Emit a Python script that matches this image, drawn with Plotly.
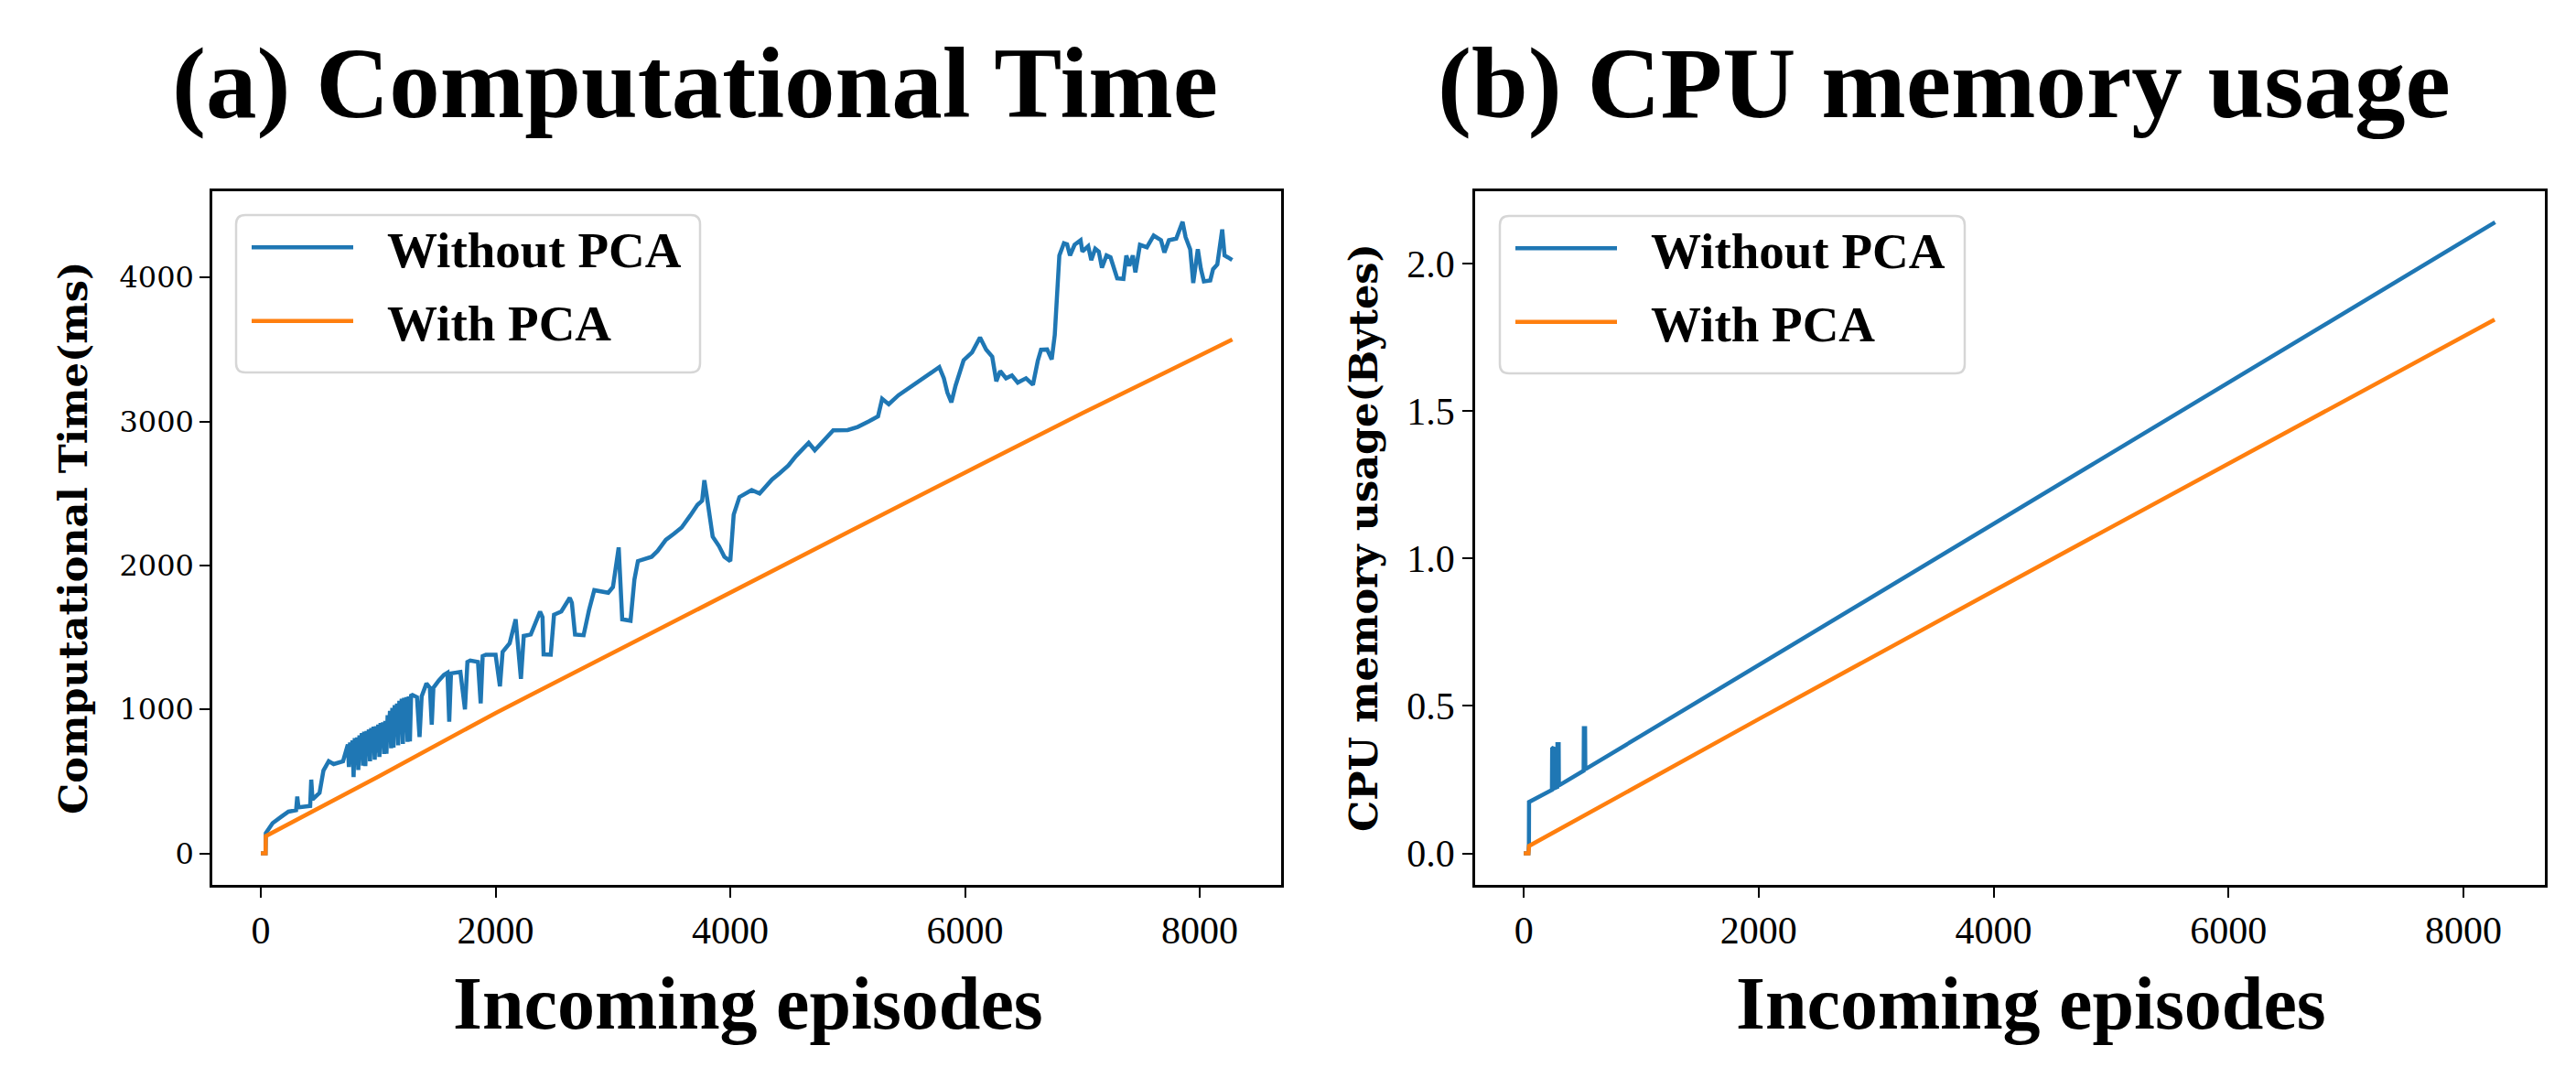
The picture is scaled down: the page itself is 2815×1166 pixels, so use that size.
import plotly.graph_objects as go

# ---------------- data ----------------
series_names = ["Without PCA", "With PCA"]
panel_titles = ["(a) Computational Time", "(b) CPU memory usage"]
x_title = "Incoming episodes"
y_titles = ["Computational Time(ms)", "CPU memory usage(Bytes)"]

x_ticks = [0, 2000, 4000, 6000, 8000]
time_ticks = [0, 1000, 2000, 3000, 4000]
mem_ticks = [0.0, 0.5, 1.0, 1.5, 2.0]
mem_tick_labels = ["0.0", "0.5", "1.0", "1.5", "2.0"]

# (a) computational time, without PCA
time_without_x = [0, 40, 42, 100, 175, 235, 300, 310, 320, 420, 429, 440, 500, 533, 578, 620, 700,
                  741, 750, 760, 770, 780, 790, 800, 810, 820, 830, 840, 850, 860, 870, 880, 890,
                  900, 910, 920, 930, 940, 950, 960, 970, 980, 990, 1000, 1010, 1020, 1030, 1040,
                  1050, 1060, 1070, 1080, 1090, 1100, 1110, 1120, 1130, 1140, 1150, 1160, 1170,
                  1180, 1190, 1200, 1210, 1220, 1230, 1240, 1250, 1260, 1270, 1280, 1292,
                  1330, 1352, 1370,
                  1411, 1440, 1456, 1470, 1516, 1560, 1590, 1605, 1620, 1700, 1739, 1760, 1784, 1850,
                  1873, 1890, 1918, 2000, 2037, 2060, 2120, 2171, 2190, 2216, 2240, 2300, 2379, 2400,
                  2409, 2470, 2498, 2560, 2632, 2650, 2677, 2750, 2796, 2841, 2960, 3000, 3049, 3065,
                  3079, 3150, 3183, 3213, 3330, 3380, 3451, 3520, 3585, 3660, 3720, 3760, 3779, 3800,
                  3850, 3904, 3950, 4000, 4029, 4078, 4182, 4250, 4356, 4420, 4495, 4560, 4668, 4720,
                  4877, 5000, 5085, 5180, 5259, 5294, 5350, 5433, 5520, 5607, 5700, 5781, 5820, 5850,
                  5884, 5920, 5988, 6060, 6128, 6180, 6232, 6267, 6300, 6350, 6400, 6450, 6520, 6579,
                  6620, 6648, 6700, 6739, 6765, 6791, 6804, 6843, 6870, 6895, 6934, 6985, 7000, 7050,
                  7076, 7110, 7140, 7167, 7206, 7240, 7258, 7297, 7350, 7375, 7400, 7430, 7452, 7491,
                  7550, 7608, 7670, 7699, 7738, 7800, 7854, 7880, 7919, 7945, 7984, 8010, 8036, 8090,
                  8114, 8150, 8192, 8212, 8240, 8277]
time_without_y = [0, 0, 140, 210, 255, 290, 300, 395, 320, 330, 512, 375, 420, 575, 640, 620, 640,
                  756, 600, 770, 640, 785, 530, 800, 620, 805, 580, 820, 700, 835, 610, 845, 607,
                  850, 720, 860, 640, 870, 760, 880, 650, 883, 700, 895, 670, 905, 780, 910,
                  690, 920, 692, 960, 800, 990, 730, 1011, 735, 1030, 850, 1040, 750,
                  1060, 900, 1074, 760, 1080, 880, 1085, 775, 1090, 777, 1095, 1100,
                  1085, 809, 1090,
                  1180, 1150, 894, 1150, 1200, 1240, 1255, 915, 1250, 1260, 1000, 1330, 1340, 1330,
                  1042, 1370, 1380, 1380, 1160, 1400, 1460, 1626, 1450, 1212, 1510, 1520, 1679, 1640,
                  1382, 1380, 1658, 1680, 1775, 1740, 1520, 1515, 1690, 1828, 1810, 1850, 2125, 1900,
                  1626, 1616, 1902, 2030, 2060, 2100, 2178, 2220, 2263, 2348, 2420, 2450, 2592, 2480,
                  2200, 2134, 2060, 2030, 2353, 2475, 2524, 2500, 2597, 2640, 2694, 2760, 2852, 2800,
                  2938, 2940, 2962, 3000, 3035, 3157, 3120, 3182, 3230, 3279, 3330, 3377, 3300, 3200,
                  3133, 3250, 3425, 3480, 3584, 3500, 3450, 3279, 3350, 3300, 3320, 3270, 3300, 3255,
                  3420, 3498, 3500, 3431, 3601, 4026, 4153, 4238, 4230, 4153, 4227, 4259, 4180, 4217,
                  4121, 4200, 4180, 4068, 4153, 4140, 4089, 3994, 3990, 4153, 4080, 4153, 4036, 4227,
                  4210, 4291, 4260, 4174, 4259, 4270, 4387, 4280, 4196, 3962, 4196, 4060, 3973, 3980,
                  4058, 4090, 4334, 4153, 4140, 4121]

# (a) computational time, with PCA
time_with_x = [0, 40, 42, 1000, 2000, 3000, 4000, 5000, 6000, 7000, 8278]
time_with_y = [0, 0, 120, 532, 975, 1395, 1815, 2229, 2645, 3057, 3569]

# (b) CPU memory usage, without PCA
mem_without_x = [0, 40, 44, 45, 240, 242, 255, 257, 285, 287, 297, 299, 510, 512, 522, 524,
                 1000, 2000, 4000, 6000, 8270]
mem_without_y = [0.0, 0.0, 0.03, 0.174, 0.215, 0.355, 0.36, 0.22, 0.225, 0.37, 0.37, 0.23,
                 0.28, 0.424, 0.424, 0.285, 0.399, 0.638, 1.117, 1.596, 2.14]

# (b) CPU memory usage, with PCA
mem_with_x = [0, 40, 45, 1000, 2000, 4000, 6000, 8266]
mem_with_y = [0.0, 0.0, 0.025, 0.235, 0.455, 0.89, 1.32, 1.81]

colors = ["#1f77b4", "#ff7f0e"]

# ---------------- figure ----------------
SERIF = "Liberation Serif"
WIDE_SERIF = "DejaVu Serif"
NB = "\u00a0\u00a0\u200a"  # gap between legend line and label

W, H = 2815, 1166
ML, MR, MT, MB = 232, 34, 209, 199
PW = W - ML - MR
PH = H - MT - MB


def px_x(p):
    return (p - ML) / PW


def px_y(p):
    return (H - MB - p) / PH


fig = go.Figure()
fig.add_trace(go.Scatter(x=time_without_x, y=time_without_y, mode="lines", name=NB + series_names[0],
                         line=dict(color=colors[0], width=4.5), xaxis="x", yaxis="y",
                         legend="legend", legendgroup="a"))
fig.add_trace(go.Scatter(x=time_with_x, y=time_with_y, mode="lines", name=NB + series_names[1],
                         line=dict(color=colors[1], width=4.5), xaxis="x", yaxis="y",
                         legend="legend", legendgroup="b"))
fig.add_trace(go.Scatter(x=mem_without_x, y=mem_without_y, mode="lines", name=NB + series_names[0],
                         line=dict(color=colors[0], width=4.5), xaxis="x2", yaxis="y2",
                         legend="legend2", legendgroup="c"))
fig.add_trace(go.Scatter(x=mem_with_x, y=mem_with_y, mode="lines", name=NB + series_names[1],
                         line=dict(color=colors[1], width=4.5), xaxis="x2", yaxis="y2",
                         legend="legend2", legendgroup="d"))

axis_common = dict(showline=True, mirror=True, linecolor="black", linewidth=2.5,
                   ticks="outside", ticklen=11, tickwidth=2, tickcolor="black",
                   showgrid=False, zeroline=False)

legend_common = dict(font=dict(family=SERIF, size=55, color="black", weight="bold"),
                     bgcolor="rgba(0,0,0,0)", borderwidth=0,
                     xanchor="left", yanchor="top", itemwidth=111, tracegroupgap=6,
                     traceorder="grouped")

fig.update_layout(
    width=W, height=H,
    margin=dict(l=ML, r=MR, t=MT, b=MB, pad=0),
    paper_bgcolor="white", plot_bgcolor="white",
    xaxis=dict(domain=[0, px_x(1400)], anchor="y", range=[-414, 8694], tickvals=x_ticks,
               tickfont=dict(family=SERIF, size=42, color="black"), **axis_common),
    yaxis=dict(domain=[0, 1], anchor="x", range=[-219, 4599], tickvals=time_ticks,
               tickfont=dict(family=WIDE_SERIF, size=32, color="black"), **axis_common),
    xaxis2=dict(domain=[px_x(1612), 1], anchor="y2", range=[-414, 8694], tickvals=x_ticks,
                tickfont=dict(family=SERIF, size=42, color="black"), **axis_common),
    yaxis2=dict(domain=[0, 1], anchor="x2", range=[-0.107, 2.245], tickvals=mem_ticks,
                ticktext=mem_tick_labels,
                tickfont=dict(family=SERIF, size=42, color="black"), **axis_common),
    legend=dict(x=px_x(270), y=px_y(228), **legend_common),
    legend2=dict(x=px_x(1651), y=px_y(229), **legend_common),
    showlegend=True,
)


def rounded_box(x0, y0, x1, y1, r=10):
    X0, X1 = px_x(x0), px_x(x1)
    Y0, Y1 = px_y(y0), px_y(y1)  # Y0 top, Y1 bottom
    rx, ry = r / PW, r / PH
    return (f"M{X0 + rx},{Y0} L{X1 - rx},{Y0} Q{X1},{Y0} {X1},{Y0 - ry} "
            f"L{X1},{Y1 + ry} Q{X1},{Y1} {X1 - rx},{Y1} "
            f"L{X0 + rx},{Y1} Q{X0},{Y1} {X0},{Y1 + ry} "
            f"L{X0},{Y0 - ry} Q{X0},{Y0} {X0 + rx},{Y0} Z")


for box in [(258, 235, 765, 407), (1639, 236, 2147, 408)]:
    fig.add_shape(type="path", path=rounded_box(*box), xref="paper", yref="paper",
                  line=dict(color="#d6d6d6", width=2.5), fillcolor="rgba(255,255,255,0.8)",
                  layer="above")

title_font = dict(family=SERIF, size=111, color="black", weight="bold")
fig.add_annotation(text=panel_titles[0], xref="paper", yref="paper", x=px_x(759), y=px_y(91),
                   xanchor="center", yanchor="middle", showarrow=False, font=title_font)
fig.add_annotation(text=panel_titles[1], xref="paper", yref="paper", x=px_x(2124), y=px_y(91),
                   xanchor="center", yanchor="middle", showarrow=False, font=title_font)

xt_font = dict(family=SERIF, size=82, color="black", weight="bold")
fig.add_annotation(text=x_title, xref="paper", yref="paper", x=px_x(817), y=px_y(1096),
                   xanchor="center", yanchor="middle", showarrow=False, font=xt_font)
fig.add_annotation(text=x_title, xref="paper", yref="paper", x=px_x(2219), y=px_y(1096),
                   xanchor="center", yanchor="middle", showarrow=False, font=xt_font)

ytitle_font = dict(family=WIDE_SERIF, size=43, color="black", weight="bold")
fig.add_annotation(text=y_titles[0], xref="paper", yref="paper", x=px_x(80), y=px_y(588),
                   xanchor="center", yanchor="middle", textangle=-90, showarrow=False,
                   font=ytitle_font)
fig.add_annotation(text=y_titles[1], xref="paper", yref="paper", x=px_x(1490), y=px_y(588),
                   xanchor="center", yanchor="middle", textangle=-90, showarrow=False,
                   font=ytitle_font)

fig.write_html("out.html", config={"displayModeBar": False},
               post_script="document.body.style.margin='0';document.body.style.overflow='hidden';")
